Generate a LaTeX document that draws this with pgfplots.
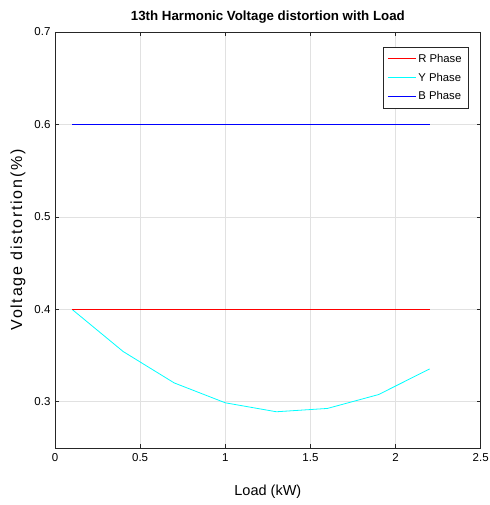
\documentclass[border=0pt]{standalone}
\usepackage{fontspec}
\setmainfont{Liberation Sans}
\newfontfamily\ylfont[LetterSpace=11]{Liberation Sans}
\usepackage{pgfplots}
\pgfplotsset{compat=1.18}
\definecolor{mred}{RGB}{255,0,0}
\definecolor{mcyan}{RGB}{0,255,255}
\definecolor{mblue}{RGB}{0,0,255}
\definecolor{mgrid}{RGB}{225,225,225}
\definecolor{maxis}{RGB}{38,38,38}
\begin{document}
\begin{tikzpicture}
\useasboundingbox (-55pt,-57pt) rectangle (434pt,448pt);
\begin{axis}[
  scale only axis,
  width=425.7pt, height=416pt,
  at={(0pt,0pt)}, anchor=south west,
  xmin=0, xmax=2.5, ymin=0.25, ymax=0.7,
  xtick={0,0.5,1,1.5,2,2.5},
  ytick={0.3,0.4,0.5,0.6,0.7},
  yticklabels={0.3,0.4,0.5,0.6,0.7},
  xticklabels={0,0.5,1,1.5,2,2.5},
  tick align=inside, tick pos=both,
  major tick length=4pt,
  grid=major,
  major grid style={color=mgrid, line width=0.6pt},
  axis line style={color=maxis, line width=0.7pt},
  tick style={color=maxis, line width=0.7pt},
  tick label style={font=\fontsize{11.5}{13}\selectfont},
  yticklabel style={xshift=-1pt},
  xticklabel style={yshift=-2pt},
  /pgf/number format/assume math mode=true,
  title={\bfseries 13th Harmonic Voltage distortion with Load},
  title style={font=\fontsize{13.3}{15}\selectfont, at={(0.5,1)}, anchor=center, yshift=9pt},
  xlabel={Load (kW)},
  ylabel={\ylfont Voltage distortion(\%)},
  xlabel style={font=\fontsize{14.5}{16}\selectfont, at={(0.5,0)}, anchor=center, yshift=-44pt},
  ylabel style={font=\fontsize{16}{18}\selectfont, at={(0,0.5)}, anchor=center, yshift=37pt},
  legend style={at={(0.9725,0.964)}, anchor=north east, font=\fontsize{11.3}{13}\selectfont, draw=maxis, fill=white, row sep=5pt, inner xsep=5pt, inner ysep=5pt, line width=0.6pt},
  legend cell align=left,
  legend image code/.code={\node[#1, draw=none, fill=none, inner sep=0pt, anchor=west] at (0cm,0cm) {\rule[-0.4pt]{1cm}{0.8pt}};},
]
\addplot[color=mred, line width=0.8pt] coordinates {(0.1,0.4) (0.4,0.4) (0.7,0.4) (1.0,0.4) (1.3,0.4) (1.6,0.4) (1.9,0.4) (2.2,0.4)};
\addlegendentry{R Phase}
\addplot[color=mcyan, line width=0.8pt] coordinates {(0.1,0.4) (0.4,0.3544) (0.7,0.3204) (1.0,0.2989) (1.3,0.2892) (1.6,0.2928) (1.9,0.3078) (2.2,0.3355)};
\addlegendentry{Y Phase}
\addplot[color=mblue, line width=0.8pt] coordinates {(0.1,0.6) (0.4,0.6) (0.7,0.6) (1.0,0.6) (1.3,0.6) (1.6,0.6) (1.9,0.6) (2.2,0.6)};
\addlegendentry{B Phase}
\addplot[color=mred, line width=0.8pt, forget plot] coordinates {(0.1,0.4) (0.4,0.4) (0.7,0.4) (1.0,0.4) (1.3,0.4) (1.6,0.4) (1.9,0.4) (2.2,0.4)};
\end{axis}
\end{tikzpicture}
\end{document}
